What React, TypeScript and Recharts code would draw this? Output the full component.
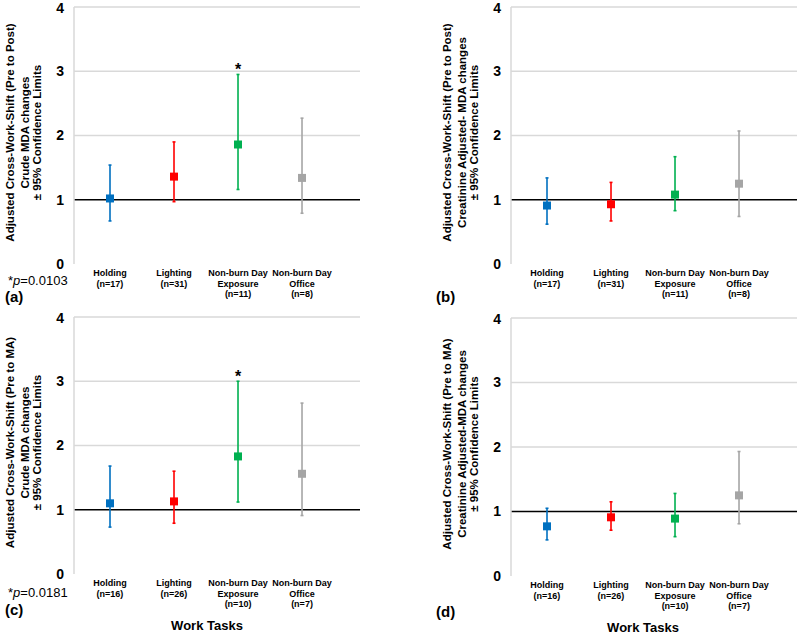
import React from 'react';
import {
  ComposedChart,
  Scatter,
  ErrorBar,
  XAxis,
  YAxis,
  ZAxis,
  CartesianGrid,
  ReferenceLine,
} from 'recharts';

const FONT = '"Liberation Sans", Arial, sans-serif';

const taskNames = [['Holding'], ['Lighting'], ['Non-burn Day', 'Exposure'], ['Non-burn Day', 'Office']];
const taskColors = ['#0070c0', '#ff0000', '#00b050', '#a5a5a5'];
const yTicks = [0, 1, 2, 3, 4];
const xTicks = [1, 2, 3, 4];

// sample sizes
const nPost = [17, 31, 11, 8];
const nMA = [16, 26, 10, 7];

// (a) pre to post, crude
const crudePostMean = [1.02, 1.36, 1.86, 1.34];
const crudePostLow = [0.67, 0.97, 1.16, 0.79];
const crudePostHigh = [1.54, 1.9, 2.95, 2.27];
const crudePostSig = [false, false, true, false];

// (b) pre to post, creatinine adjusted
const creatPostMean = [0.91, 0.93, 1.08, 1.25];
const creatPostLow = [0.62, 0.67, 0.83, 0.74];
const creatPostHigh = [1.34, 1.27, 1.67, 2.07];
const creatPostSig = [false, false, false, false];

// (c) pre to MA, crude
const crudeMAMean = [1.1, 1.13, 1.83, 1.56];
const crudeMALow = [0.73, 0.79, 1.12, 0.91];
const crudeMAHigh = [1.68, 1.6, 3.0, 2.66];
const crudeMASig = [false, false, true, false];

// (d) pre to MA, creatinine adjusted
const creatMAMean = [0.77, 0.91, 0.89, 1.25];
const creatMALow = [0.56, 0.71, 0.61, 0.81];
const creatMAHigh = [1.05, 1.15, 1.28, 1.93];
const creatMASig = [false, false, false, false];

const yLabelA = ['Adjusted Cross-Work-Shift (Pre to Post)', 'Crude MDA changes', '± 95% Confidence Limits'];
const yLabelB = ['Adjusted Cross-Work-Shift (Pre to Post)', 'Creatinine Adjusted- MDA changes', '± 95% Confidence Limits'];
const yLabelC = ['Adjusted Cross-Work-Shift (Pre to MA)', 'Crude MDA changes', '± 95% Confidence Limits'];
const yLabelD = ['Adjusted Cross-Work-Shift (Pre to MA)', 'Creatinine Adjusted-MDA changes', '± 95% Confidence Limits'];

function TaskTick({ x, y, payload, n }: any) {
  const idx = payload.value - 1;
  const lines = [...(taskNames[idx] || []), `(n=${n[idx]})`];
  return (
    <text x={x} y={y} textAnchor="middle" fontFamily={FONT} fontSize={9} fontWeight="bold" fill="#000">
      {lines.map((l, i) => (
        <tspan key={i} x={x} dy={i === 0 ? 12 : 10.5}>
          {l}
        </tspan>
      ))}
    </text>
  );
}

function YLabel({ viewBox, lines }: any) {
  const cy = viewBox.y + viewBox.height / 2 - 3;
  const xs = [9.5, 24.5, 37];
  return (
    <g>
      {lines.map((l: string, i: number) => {
        const lx = (viewBox.x || 0) + xs[i];
        return (
          <text
            key={i}
            x={lx}
            y={cy}
            transform={`rotate(-90 ${lx} ${cy})`}
            textAnchor="middle"
            dominantBaseline="central"
            fontFamily={FONT}
            fontSize={11.5}
            fontWeight="bold"
            fill="#000"
          >
            {l}
          </text>
        );
      })}
    </g>
  );
}

function StarShape({ cx, cy }: any) {
  return (
    <text x={cx} y={cy + 1} textAnchor="middle" fontFamily={FONT} fontSize={16} fontWeight="bold" fill="#000">
      *
    </text>
  );
}

interface PanelProps {
  mean: number[];
  low: number[];
  high: number[];
  sig: boolean[];
  n: number[];
  yLabel: string[];
  width: number;
  height: number;
  margin: { top: number; right: number; bottom: number; left: number };
}

function Panel({ mean, low, high, sig, n, yLabel, width, height, margin }: PanelProps) {
  const points = mean.map((m, i) => ({ x: i + 1, y: m, err: [m - low[i], high[i] - m] }));
  const stars = points.filter((_, i) => sig[i]).map((p) => ({ x: p.x, y: high[p.x - 1] }));
  return (
    <ComposedChart width={width} height={height} margin={margin}>
      <CartesianGrid vertical={false} horizontalValues={[2, 3, 4]} stroke="#d9d9d9" strokeWidth={1.5} />
      <XAxis
        type="number"
        dataKey="x"
        domain={[0.4375, 4.906]}
        ticks={xTicks}
        interval={0}
        axisLine={false}
        tickLine={false}
        tickSize={0}
        tickMargin={0}
        height={46}
        tick={<TaskTick n={n} />}
      />
      <YAxis
        type="number"
        dataKey="y"
        domain={[0, 4]}
        ticks={yTicks}
        width={74}
        axisLine={{ stroke: '#d9d9d9', strokeWidth: 1.5 }}
        tickLine={false}
        tickMargin={4}
        tick={{ fontFamily: FONT, fontSize: 14, fontWeight: 'bold', fill: '#000' }}
        label={<YLabel lines={yLabel} />}
      />
      <ZAxis range={[49, 49]} />
      <ReferenceLine y={1} stroke="#000" strokeWidth={1.5} />
      {points.map((p, i) => (
        <Scatter key={i} data={[p]} fill={taskColors[i]} shape="square" isAnimationActive={false}>
          <ErrorBar dataKey="err" direction="y" width={1.5} stroke={taskColors[i]} strokeWidth={1.6} />
        </Scatter>
      ))}
      {stars.length > 0 && <Scatter data={stars} shape={<StarShape />} isAnimationActive={false} />}
    </ComposedChart>
  );
}

export default function App() {
  const txt = { fontFamily: FONT, fill: '#000' };
  return (
    <div style={{ position: 'absolute', left: 0, top: 0, width: 800, height: 634, background: '#fff' }}>
      <div style={{ position: 'absolute', left: 0, top: 0 }}>
        <Panel
          mean={crudePostMean}
          low={crudePostLow}
          high={crudePostHigh}
          sig={crudePostSig}
          n={nPost}
          yLabel={yLabelA}
          width={400}
          height={310}
          margin={{ top: 7, right: 40, bottom: 0, left: 0 }}
        />
      </div>
      <div style={{ position: 'absolute', left: 437, top: 0 }}>
        <Panel
          mean={creatPostMean}
          low={creatPostLow}
          high={creatPostHigh}
          sig={creatPostSig}
          n={nPost}
          yLabel={yLabelB}
          width={363}
          height={310}
          margin={{ top: 7, right: 3, bottom: 0, left: 0 }}
        />
      </div>
      <div style={{ position: 'absolute', left: 0, top: 310 }}>
        <Panel
          mean={crudeMAMean}
          low={crudeMALow}
          high={crudeMAHigh}
          sig={crudeMASig}
          n={nMA}
          yLabel={yLabelC}
          width={400}
          height={310}
          margin={{ top: 7, right: 40, bottom: 0, left: 0 }}
        />
      </div>
      <div style={{ position: 'absolute', left: 437, top: 311 }}>
        <Panel
          mean={creatMAMean}
          low={creatMALow}
          high={creatMAHigh}
          sig={creatMASig}
          n={nMA}
          yLabel={yLabelD}
          width={363}
          height={311}
          margin={{ top: 7, right: 3, bottom: 0, left: 0 }}
        />
      </div>
      <svg width={800} height={634} style={{ position: 'absolute', left: 0, top: 0, pointerEvents: 'none' }}>
        <text x={8} y={285} fontSize={13} {...txt}>
          *<tspan fontStyle="italic">p</tspan>=0.0103
        </text>
        <text x={5} y={302} fontSize={15} fontWeight="bold" {...txt}>(a)</text>
        <text x={436} y={302} fontSize={15} fontWeight="bold" {...txt}>(b)</text>
        <text x={8} y={597} fontSize={13} {...txt}>
          *<tspan fontStyle="italic">p</tspan>=0.0181
        </text>
        <text x={5} y={615} fontSize={15} fontWeight="bold" {...txt}>(c)</text>
        <text x={436} y={617} fontSize={15} fontWeight="bold" {...txt}>(d)</text>
        <text x={207} y={630} fontSize={13} fontWeight="bold" textAnchor="middle" {...txt}>Work Tasks</text>
        <text x={643} y={632} fontSize={13} fontWeight="bold" textAnchor="middle" {...txt}>Work Tasks</text>
      </svg>
    </div>
  );
}
